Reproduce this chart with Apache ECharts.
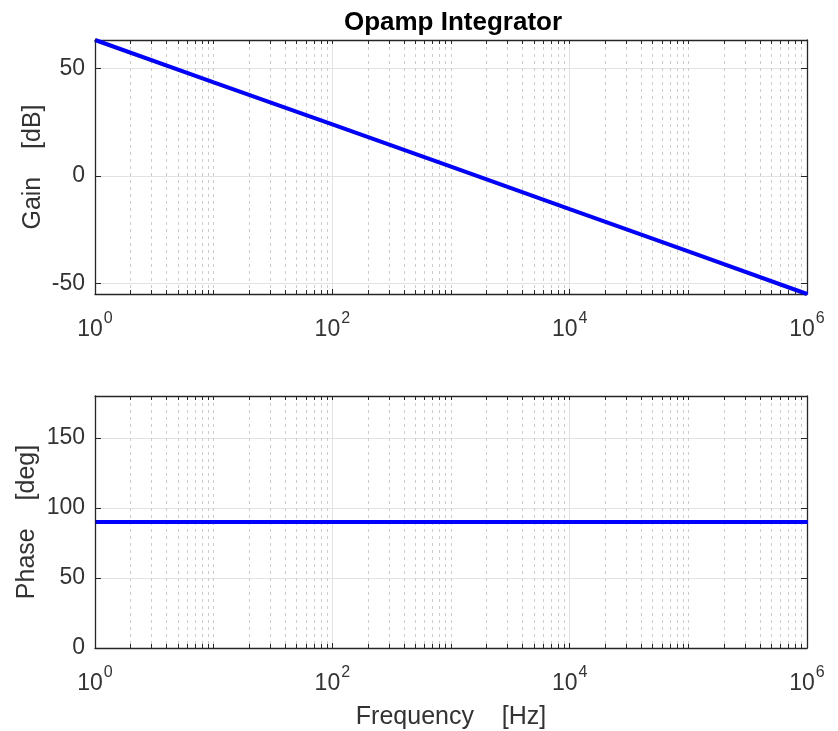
<!DOCTYPE html>
<html>
<head>
<meta charset="utf-8">
<script src="https://cdn.jsdelivr.net/npm/echarts@6/dist/echarts.min.js"></script>
<style>
  html, body { margin: 0; padding: 0; background: #fff; }
  #chart { width: 838px; height: 731px; }
</style>
</head>
<body>
<div id="chart"></div>
<script>
// Bode plot data
const freqHz = [1, 10, 100, 1000, 10000, 100000, 1000000];
const gainDb = [63.3, 43.6, 24.0, 4.3, -15.5, -35.2, -55.0];
const phaseDeg = [90, 90, 90, 90, 90, 90, 90];

const xMajorTicks = [1, 100, 10000, 1000000];
const gainTicks = [-50, 0, 50];
const phaseTicks = [0, 50, 100, 150];

// minor log grid: 2..9 in each decade, plus the odd decades
const xMinorTicks = [];
[1, 10, 100, 1000, 10000, 100000].forEach(d => {
  for (let k = 2; k <= 10; k++) {
    const v = k * d;
    if (xMajorTicks.indexOf(v) < 0) xMinorTicks.push(v);
  }
});
const xAllTicks = xMajorTicks.concat(xMinorTicks);

const FONT = '"Liberation Sans", Arial, Helvetica, sans-serif';
const INK = '#262626';
const TXT = '#333333';

const chart = echarts.init(document.getElementById('chart'));

const supLabel = {
  formatter: v => '{b|10}{s|' + Math.round(Math.log10(v)) + '}',
  rich: {
    b: { fontSize: 23, fontFamily: FONT, color: TXT, padding: [12, 0, 0, 0] },
    s: { fontSize: 16, fontFamily: FONT, color: TXT, padding: [0, 0, 10, 1] }
  }
};

function xAxesFor(g, withName) {
  const base = { type: 'log', logBase: 10, gridIndex: g, min: 1, max: 1000000 };
  return [
    Object.assign({}, base, {
      position: 'bottom',
      name: withName ? 'Frequency    [Hz]' : '',
      nameLocation: 'middle',
      nameGap: 57,
      nameTextStyle: { fontSize: 25, fontFamily: FONT, color: TXT },
      axisLine: { show: true, onZero: false, lineStyle: { color: INK, width: 1.3 } },
      axisTick: { show: true, inside: true, length: 5, customValues: xMajorTicks, lineStyle: { color: INK } },
      axisLabel: Object.assign({ show: true, margin: 12, customValues: xMajorTicks }, supLabel),
      splitLine: { show: true, lineStyle: { color: '#e2e2e2', width: 1 } }
    }),
    Object.assign({}, base, {
      position: 'bottom',
      axisLine: { show: false, onZero: false },
      axisTick: { show: true, inside: true, length: 4, customValues: xMinorTicks, lineStyle: { color: INK } },
      axisLabel: { show: false },
      splitLine: { show: true, lineStyle: { color: '#cccccc', width: 1, type: [3, 4] } }
    }),
    Object.assign({}, base, {
      position: 'top',
      axisLine: { show: true, onZero: false, lineStyle: { color: INK, width: 1.3 } },
      axisTick: { show: true, inside: true, length: 4, customValues: xAllTicks, lineStyle: { color: INK } },
      axisLabel: { show: false },
      splitLine: { show: false }
    })
  ];
}

function yAxesFor(g, name, min, max, ticks, gap) {
  return [
    {
      type: 'value', gridIndex: g, min: min, max: max, position: 'left',
      name: name, nameLocation: 'middle', nameGap: gap, nameMoveOverlap: false,
      nameTextStyle: { fontSize: 25, fontFamily: FONT, color: TXT },
      axisLine: { show: true, onZero: false, lineStyle: { color: INK, width: 1.3 } },
      axisTick: { show: true, inside: true, length: 6, customValues: ticks, lineStyle: { color: INK } },
      axisLabel: { show: true, customValues: ticks, margin: 10, fontSize: 23, fontFamily: FONT, color: TXT },
      splitLine: { show: true, lineStyle: { color: '#e2e2e2', width: 1 } }
    },
    {
      type: 'value', gridIndex: g, min: min, max: max, position: 'right',
      axisLine: { show: true, onZero: false, lineStyle: { color: INK, width: 1.3 } },
      axisTick: { show: true, inside: true, length: 6, customValues: ticks, lineStyle: { color: INK } },
      axisLabel: { show: false },
      splitLine: { show: false }
    }
  ];
}

const option = {
  backgroundColor: '#ffffff',
  animation: false,
  title: {
    text: 'Opamp Integrator',
    left: 448,
    textAlign: 'center',
    top: 5,
    textStyle: { fontSize: 26, fontWeight: 'bold', fontFamily: FONT, color: '#000' }
  },
  grid: [
    { left: 95, right: 31, top: 40, height: 254 },
    { left: 95, right: 31, top: 396, height: 254 }
  ],
  xAxis: xAxesFor(0, false).concat(xAxesFor(1, true)),
  yAxis: yAxesFor(0, 'Gain    [dB]', -55, 63.3, gainTicks, 49)
    .concat(yAxesFor(1, 'Phase    [deg]', 0, 180, phaseTicks, 55)),
  series: [
    {
      type: 'line',
      xAxisIndex: 0,
      yAxisIndex: 0,
      data: freqHz.map((f, i) => [f, gainDb[i]]),
      symbol: 'none',
      lineStyle: { color: '#0000ff', width: 4 }
    },
    {
      type: 'line',
      xAxisIndex: 3,
      yAxisIndex: 2,
      data: freqHz.map((f, i) => [f, phaseDeg[i]]),
      symbol: 'none',
      lineStyle: { color: '#0000ff', width: 4 }
    }
  ]
};

chart.setOption(option);
</script>
</body>
</html>
